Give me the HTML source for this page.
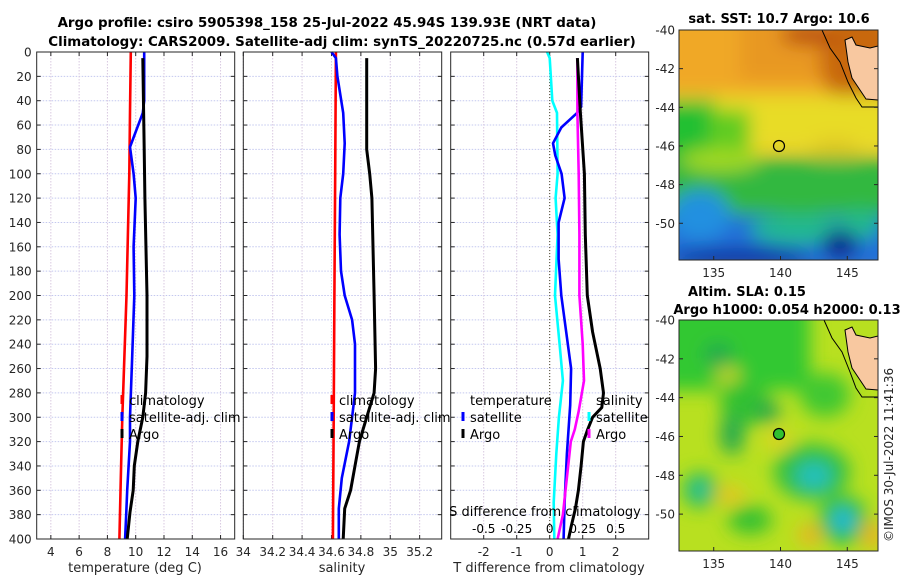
<!DOCTYPE html>
<html><head><meta charset="utf-8">
<style>
html,body{margin:0;padding:0;background:#fff;}
svg{display:block;font-family:"DejaVu Sans","Liberation Sans",sans-serif;}
</style></head>
<body>
<svg id="fig" width="900" height="580" viewBox="0 0 900 580" xmlns="http://www.w3.org/2000/svg">
<defs>
  <filter id="blur6" x="-20%" y="-20%" width="140%" height="140%"><feGaussianBlur stdDeviation="9"/></filter>
  <clipPath id="clipTop"><rect x="679" y="30" width="199" height="230"/></clipPath>
  <clipPath id="clipBot"><rect x="679" y="320" width="199" height="231"/></clipPath>
</defs>
<text x="327" y="27" text-anchor="middle" font-size="13.4" font-weight="bold">Argo profile: csiro 5905398_158 25-Jul-2022 45.94S 139.93E (NRT data)</text>
<text x="342" y="46" text-anchor="middle" font-size="13.4" font-weight="bold">Climatology: CARS2009. Satellite-adj clim: synTS_20220725.nc (0.57d earlier)</text>

<!-- top map: SST -->
<g clip-path="url(#clipTop)">
  <rect x="679" y="30" width="199" height="230" fill="#f0c828"/>
  <g filter="url(#blur6)">
    <rect x="660" y="10" width="240" height="90" fill="#f0a828"/>
    <rect x="740" y="10" width="160" height="70" fill="#e89820"/>
    <ellipse cx="860" cy="60" rx="40" ry="50" fill="#c8680c"/>
    <ellipse cx="810" cy="35" rx="30" ry="10" fill="#b84810"/>
    <rect x="660" y="95" width="240" height="55" fill="#e8dc28"/>
    <rect x="660" y="100" width="55" height="80" fill="#20c030"/>
    <rect x="710" y="110" width="40" height="40" fill="#60cc20"/>
    <ellipse cx="835" cy="150" rx="25" ry="12" fill="#e0c820"/>
    <rect x="660" y="158" width="240" height="57" fill="#30b840"/>
    <ellipse cx="720" cy="160" rx="40" ry="12" fill="#a0d820"/>
    <rect x="660" y="215" width="240" height="60" fill="#2070d8"/>
    <ellipse cx="700" cy="215" rx="30" ry="25" fill="#2090e0"/>
    <ellipse cx="800" cy="230" rx="50" ry="15" fill="#20b890"/>
    <ellipse cx="860" cy="225" rx="20" ry="15" fill="#20b890"/>
    <ellipse cx="740" cy="258" rx="70" ry="10" fill="#0830a0"/>
    <ellipse cx="840" cy="245" rx="18" ry="15" fill="#102890"/>
  </g>
  <path d="M845,40 L852,37 L856,45 L870,48 L878,46 L878,100 L866,99 L860,90 L852,78 L848,62 Z" fill="#f8c8a0" stroke="#000" stroke-width="1"/>
  <path d="M822,30 L830,48 L840,62 L848,82 L856,98 L862,107 L878,107" fill="none" stroke="#000" stroke-width="1"/>
  <circle cx="779" cy="146" r="5.5" fill="none" stroke="#000" stroke-width="1.2"/>
</g>
<rect x="679" y="30" width="199" height="230" fill="none" stroke="#262626" stroke-width="1"/>
<text x="779" y="23" text-anchor="middle" font-size="13" font-weight="bold">sat. SST: 10.7 Argo: 10.6</text>

<!-- bottom map: SLA -->
<g clip-path="url(#clipBot)">
  <rect x="679" y="320" width="199" height="231" fill="#b8e020"/>
  <g filter="url(#blur6)">
    <rect x="660" y="300" width="150" height="90" fill="#30c830"/>
    <ellipse cx="718" cy="355" rx="14" ry="12" fill="#20a850"/>
    <ellipse cx="745" cy="405" rx="25" ry="20" fill="#30c030"/>
    <ellipse cx="768" cy="412" rx="12" ry="10" fill="#20a050"/>
    <ellipse cx="732" cy="435" rx="12" ry="20" fill="#20a850"/>
    <ellipse cx="825" cy="395" rx="25" ry="22" fill="#40c830"/>
    <ellipse cx="700" cy="490" rx="18" ry="18" fill="#30c040"/>
    <ellipse cx="700" cy="490" rx="9" ry="9" fill="#20c0b0"/>
    <ellipse cx="812" cy="472" rx="38" ry="28" fill="#30c040"/>
    <ellipse cx="814" cy="476" rx="18" ry="14" fill="#20c0c0"/>
    <ellipse cx="843" cy="520" rx="25" ry="25" fill="#30c040"/>
    <ellipse cx="843" cy="520" rx="12" ry="12" fill="#20b8e0"/>
    <ellipse cx="750" cy="520" rx="22" ry="14" fill="#30c030"/>
    <ellipse cx="730" cy="495" rx="15" ry="8" fill="#f0c020"/>
    <ellipse cx="810" cy="535" rx="12" ry="10" fill="#f0b020"/>
    <ellipse cx="872" cy="535" rx="10" ry="15" fill="#f0b020"/>
    <ellipse cx="728" cy="375" rx="12" ry="6" fill="#e8d820"/>
    <ellipse cx="778" cy="440" rx="14" ry="8" fill="#e8d020"/>
  </g>
  <path d="M845,330 L852,327 L856,335 L870,338 L878,336 L878,390 L866,389 L860,380 L852,368 L848,352 Z" fill="#f8c8a0" stroke="#000" stroke-width="1"/>
  <path d="M824,320 L832,338 L842,352 L850,372 L856,388 L862,397 L878,397" fill="none" stroke="#000" stroke-width="1"/>
  <circle cx="779" cy="434" r="5.5" fill="#30c030" stroke="#000" stroke-width="1.2"/>
</g>
<rect x="679" y="320" width="199" height="231" fill="none" stroke="#262626" stroke-width="1"/>
<text x="747" y="296" text-anchor="middle" font-size="13" font-weight="bold">Altim. SLA: 0.15</text>
<text x="787" y="314" text-anchor="middle" font-size="13" font-weight="bold">Argo h1000: 0.054 h2000: 0.13</text>
<text transform="translate(893,542) rotate(-90)" font-size="12" fill="#262626">©IMOS 30-Jul-2022 11:41:36</text>
<g id="maxes"></g>
<g id="panels"></g>
</svg>
<script>
// ---- data ----
const yTicks = [0,20,40,60,80,100,120,140,160,180,200,220,240,260,280,300,320,340,360,380,400];
const tTicks = [4,6,8,10,12,14,16];
const sTicks = [34,34.2,34.4,34.6,34.8,35,35.2];
const sTickLabels = ["34","34.2","34.4","34.6","34.8","35","35.2"];
const dTicks = [-2,-1,0,1,2];
const dsTicks = [-0.5,-0.25,0,0.25,0.5];
const dsTickLabels = ["-0.5","-0.25","0","0.25","0.5"];

const climTDepth = [0,50,100,150,200,250,300,350,400];
const climT = [9.65,9.6,9.55,9.45,9.35,9.2,9.05,8.95,8.85];
const satTDepth = [0,40,50,78,100,120,160,200,250,300,320,360,380,400];
const satT = [10.6,10.6,10.5,9.6,9.85,10.0,9.85,9.9,9.75,9.6,9.6,9.4,9.33,9.25];
const argoTDepth = [5,80,120,200,250,280,300,320,340,360,378,400];
const argoT = [10.5,10.6,10.65,10.8,10.8,10.7,10.5,10.15,9.9,9.82,9.6,9.4];

const climSDepth = [0,100,200,300,400];
const climS = [34.63,34.625,34.62,34.615,34.61];
const satSDepth = [0,5,20,50,75,100,120,150,180,200,220,240,280,300,320,350,375,400];
const satS = [34.60,34.63,34.64,34.68,34.69,34.68,34.66,34.655,34.665,34.69,34.74,34.76,34.76,34.74,34.72,34.67,34.65,34.65];
const argoSDepth = [5,80,100,120,200,260,280,300,320,340,360,375,400];
const argoS = [34.84,34.84,34.86,34.875,34.89,34.9,34.89,34.84,34.79,34.76,34.73,34.69,34.68];

const satDTDepth = [0,45,50,62,75,85,100,120,140,170,200,230,260,290,330,370,400];
const satDT = [1.0,0.95,0.83,0.35,0.1,0.17,0.36,0.45,0.27,0.27,0.35,0.5,0.65,0.62,0.52,0.45,0.42];
const argoDTDepth = [5,50,100,150,200,230,260,280,292,300,310,320,340,360,375,390,400];
const argoDT = [0.84,0.93,1.05,1.08,1.14,1.3,1.53,1.63,1.58,1.3,1.15,1.02,0.95,0.87,0.78,0.65,0.57];
const satDSDepth = [0,5,40,50,100,120,150,200,240,270,300,330,370,400];
const satDS = [-0.02,0,0.02,0.055,0.06,0.045,0.06,0.04,0.075,0.1,0.07,0.05,0.03,0.035];
const argoDSDepth = [5,50,100,150,200,240,270,295,310,320,340,360,380,400];
const argoDS = [0.21,0.21,0.22,0.225,0.225,0.25,0.26,0.22,0.19,0.16,0.14,0.12,0.1,0.06];

const latTicks = [-40,-42,-44,-46,-48,-50];
const lonTicks = [135,140,145];

// ---- helpers ----
const NS = "http://www.w3.org/2000/svg";
function mk(tag, attrs, parent){const e=document.createElementNS(NS,tag);for(const k in attrs)e.setAttribute(k,attrs[k]);parent.appendChild(e);return e;}
const Y0=52, Y1=539;
function yScale(d){return Y0 + d*(Y1-Y0)/400;}
const panels = document.getElementById('panels');
function linScale(d0,d1,p0,p1){return v=>p0+(v-d0)*(p1-p0)/(d1-d0);}

function drawFrame(x0,x1,xs,xticks,labels,name,showY){
  const g=mk('g',{},panels);
  
  
  mk('rect',{x:x0,y:Y0,width:x1-x0,height:Y1-Y0,fill:'#fff'},g);
  yTicks.forEach(d=>{const y=yScale(d);
    mk('line',{x1:x0,x2:x1,y1:y,y2:y,stroke:'#c4c8ef','stroke-width':1,'stroke-dasharray':'1.5,1.5'},g);
    mk('line',{x1:x0,x2:x0+4,y1:y,y2:y,stroke:'#262626'},g);
    mk('line',{x1:x1-4,x2:x1,y1:y,y2:y,stroke:'#262626'},g);
    if(showY){const t=mk('text',{x:x0-5,y:y+4.5,'text-anchor':'end','font-size':12,fill:'#262626'},g);t.textContent=d;
      
      }
  });
  xticks.forEach((v,i)=>{const x=xs(v);
    mk('line',{x1:x,x2:x,y1:Y0,y2:Y1,stroke:'#d8c8e0','stroke-width':1,'stroke-dasharray':'1.5,1.5'},g);
    mk('line',{x1:x,x2:x,y1:Y1-4,y2:Y1,stroke:'#262626'},g);
    mk('line',{x1:x,x2:x,y1:Y0,y2:Y0+4,stroke:'#262626'},g);
    if(labels){const t=mk('text',{x:x,y:556,'text-anchor':'middle','font-size':12,fill:'#262626'},g);t.textContent=labels[i];
      
      }
  });
  return g;
}
function drawLine(g,xs,vals,depths,color,name,w){
  const pts=vals.map((v,i)=>xs(v).toFixed(1)+','+yScale(depths[i]).toFixed(1)).join(' ');
  const p=mk('polyline',{points:pts,fill:'none',stroke:color,'stroke-width':w||2.6,'stroke-linejoin':'round'},g);
  
  
}
function border(g,x0,x1){mk('rect',{x:x0,y:Y0,width:x1-x0,height:Y1-Y0,fill:'none',stroke:'#262626','stroke-width':1},g);}
function legendItem(g,mx,y,color,label,name){
  mk('rect',{x:mx-1.5,y:y-5,width:3,height:9,fill:color},g);
  const t=mk('text',{x:mx+7,y:y+5,'font-size':13,fill:'#000'},g);t.textContent=label;
  
  
}
function xLabel(g,x,txt,name){const t=mk('text',{x:x,y:572,'text-anchor':'middle','font-size':13,fill:'#262626'},g);t.textContent=txt;
  
  }

// Panel 1: temperature
const xT=linScale(3,17,36.7,234.7);
const g1=drawFrame(36.7,234.7,xT,tTicks,tTicks.map(String),'temperature',true);
drawLine(g1,xT,climT,climTDepth,'#ff0000','temp-climatology-line');
drawLine(g1,xT,satT,satTDepth,'#0000ff','temp-satellite-line');
drawLine(g1,xT,argoT,argoTDepth,'#000000','temp-argo-line',3);
border(g1,36.7,234.7);
legendItem(g1,122,400,'#ff0000','climatology','legend-climatology');
legendItem(g1,122,417,'#0000ff','satellite-adj. clim','legend-satellite');
legendItem(g1,122,434,'#000000','Argo','legend-argo');
xLabel(g1,135,'temperature (deg C)','x-axis-title-temperature');

// Panel 2: salinity
const xS=linScale(34,35.35,243.3,441.7);
const g2=drawFrame(243.3,441.7,xS,sTicks,sTickLabels,'salinity',false);
drawLine(g2,xS,climS,climSDepth,'#ff0000','sal-climatology-line');
drawLine(g2,xS,satS,satSDepth,'#0000ff','sal-satellite-line');
drawLine(g2,xS,argoS,argoSDepth,'#000000','sal-argo-line',3);
border(g2,243.3,441.7);
legendItem(g2,332,400,'#ff0000','climatology','legend-climatology-2');
legendItem(g2,332,417,'#0000ff','satellite-adj. clim','legend-satellite-2');
legendItem(g2,332,434,'#000000','Argo','legend-argo-2');
xLabel(g2,342,'salinity','x-axis-title-salinity');

// Panel 3: differences
const xD=linScale(-3,3,450.7,648.7);
const xDS=linScale(-0.75,0.75,450.7,648.7);
const g3=drawFrame(450.7,648.7,xD,dTicks,dTicks.map(String),'difference',false);
mk('line',{x1:xD(0),x2:xD(0),y1:Y0,y2:Y1,stroke:'#4a4a2a','stroke-width':1,'stroke-dasharray':'1,2'},g3);
drawLine(g3,xDS,satDS,satDSDepth,'#00ffff','sdiff-satellite-line');
drawLine(g3,xD,satDT,satDTDepth,'#0000ff','tdiff-satellite-line');
drawLine(g3,xDS,argoDS,argoDSDepth,'#ff00ff','sdiff-argo-line');
drawLine(g3,xD,argoDT,argoDTDepth,'#000000','tdiff-argo-line',3);
border(g3,450.7,648.7);
(function(){const t=mk('text',{x:470,y:405,'font-size':13},g3);t.textContent='temperature';
 
 
 const t2=mk('text',{x:596,y:405,'font-size':13},g3);t2.textContent='salinity';
 
 })();
legendItem(g3,463,417,'#0000ff','satellite','legend-t-satellite');
legendItem(g3,463,434,'#000000','Argo','legend-t-argo');
legendItem(g3,589,417,'#00ffff','satellite','legend-s-satellite');
legendItem(g3,589,434,'#ff00ff','Argo','legend-s-argo');
(function(){const t=mk('text',{x:545,y:516,'text-anchor':'middle','font-size':13},g3);t.textContent='S difference from climatology';
 
 })();
dsTicks.forEach((v,i)=>{const t=mk('text',{x:xDS(v),y:533,'text-anchor':'middle','font-size':12},g3);t.textContent=dsTickLabels[i];
 
 });
xLabel(g3,549,'T difference from climatology','x-axis-title-tdiff');

// map axes
const maxes=document.getElementById('maxes');
function mapAxes(top,bottom){
  const ly=linScale(-40,-51.9,top,bottom);
  const lx=linScale(132.4,147.3,679,878);
  latTicks.forEach(v=>{const y=ly(v);
    mk('line',{x1:679,x2:683,y1:y,y2:y,stroke:'#262626'},maxes);
    mk('line',{x1:874,x2:878,y1:y,y2:y,stroke:'#262626'},maxes);
    const t=mk('text',{x:675,y:y+4.5,'text-anchor':'end','font-size':12,fill:'#262626'},maxes);t.textContent=v;
    
    });
  lonTicks.forEach(v=>{const x=lx(v);
    mk('line',{x1:x,x2:x,y1:bottom-4,y2:bottom,stroke:'#262626'},maxes);
    const t=mk('text',{x:x,y:bottom+17,'text-anchor':'middle','font-size':12,fill:'#262626'},maxes);t.textContent=v;
    
    });
}
mapAxes(30,260);
mapAxes(320,551);
</script>
</body></html>
